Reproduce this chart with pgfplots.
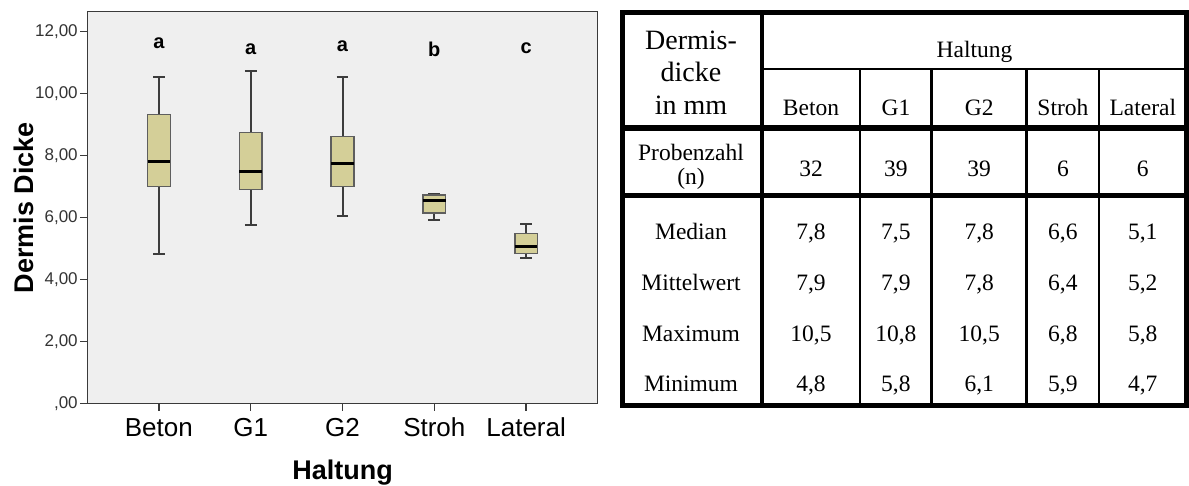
\documentclass[border=0pt]{standalone}
\usepackage{pgfplots}
\pgfplotsset{compat=1.18}
\usepgfplotslibrary{statistics}
\usepackage{fontspec}
\setmainfont{Liberation Serif}
\setsansfont{Liberation Sans}

\definecolor{boxfill}{HTML}{D4CF98}
\definecolor{boxedge}{HTML}{5E5E5E}
\definecolor{whisk}{HTML}{3C3C3C}
\definecolor{plotbg}{HTML}{EFEFEF}
\definecolor{framegray}{HTML}{3A3A3A}
\definecolor{tickgray}{HTML}{333333}

\newcommand{\tabfont}{\rmfamily\fontsize{23.5}{26}\selectfont}

\begin{document}
\begin{tikzpicture}
\path[use as bounding box] (0,0) rectangle (1189pt,485pt);

\begin{axis}[
  at={(87.7pt,81.7pt)}, anchor=south west,
  scale only axis, width=509.6pt, height=391.6pt,
  xmin=0.225, xmax=5.775, ymin=0, ymax=12.65,
  axis background/.style={fill=plotbg},
  axis line style={draw=framegray, line width=1.3pt},
  tick pos=left, tick align=outside, major tick length=7.5pt,
  every tick/.style={draw=framegray, line width=1.3pt},
  xtick={1,2,3,4,5},
  xticklabels={Beton,G1,G2,Stroh,Lateral},
  ytick={0,2,4,6,8,10,12},
  yticklabels={{,00},{2,00},{4,00},{6,00},{8,00},{10,00},{12,00}},
  xticklabel style={font=\sffamily\fontsize{26}{26}\selectfont, text=black, anchor=base, yshift=-26pt},
  yticklabel style={font=\sffamily\fontsize{17}{17}\selectfont, text=tickgray, anchor=east, xshift=1pt},
  every axis x label/.style={at={(axis description cs:0.5,0)}, anchor=base, yshift=-76pt},
  every axis y label/.style={at={([xshift=-54pt]axis description cs:0,0.5)}, anchor=base, rotate=90},
  xlabel={Haltung},
  ylabel={Dermis Dicke},
  label style={font=\sffamily\bfseries\fontsize{27}{27}\selectfont},
  boxplot/draw direction=y,
  boxplot/every box/.style={fill=boxfill, draw=boxedge, line width=1.4pt},
  boxplot/every median/.style={draw=black, line width=3pt},
  boxplot/every whisker/.style={draw=whisk, line width=2pt},
  boxplot/box extend=0.247,
  boxplot/whisker extend=0.127,
  clip=false,
]
% Beton
\addplot[boxplot prepared={draw position=1, lower whisker=4.81, lower quartile=7.01,
  median=7.82, upper quartile=9.33, upper whisker=10.53}] coordinates {};
% G1
\addplot[boxplot prepared={draw position=2, lower whisker=5.77, lower quartile=6.91,
  median=7.49, upper quartile=8.74, upper whisker=10.74}] coordinates {};
% G2
\addplot[boxplot prepared={draw position=3, lower whisker=6.04, lower quartile=7.01,
  median=7.75, upper quartile=8.62, upper whisker=10.53}] coordinates {};
% Stroh
\addplot[boxplot prepared={draw position=4, lower whisker=5.92, lower quartile=6.15,
  median=6.55, upper quartile=6.73, upper whisker=6.76}] coordinates {};
% Lateral
\addplot[boxplot prepared={draw position=5, lower whisker=4.69, lower quartile=4.83,
  median=5.07, upper quartile=5.49, upper whisker=5.80}] coordinates {};

% group letters
\begin{scope}[every node/.style={font=\sffamily\bfseries\fontsize{20}{20}\selectfont, anchor=base}]
\node at (axis cs:1,11.46) {a};
\node at (axis cs:2,11.27) {a};
\node at (axis cs:3,11.38) {a};
\node at (axis cs:4,11.19) {b};
\node at (axis cs:5,11.30) {c};
\end{scope}
\end{axis}

% summary table
\begin{scope}[shift={(0pt,485pt)}, x=1pt, y=-1pt]
\draw[line width=5pt] (622.5,12.5) rectangle (1186.5,405.5);
\draw[line width=3.7pt] (762,12.5) -- (762,405.5);
\draw[line width=1.5pt] (762,69) -- (1186.5,69);
\draw[line width=5.3pt] (622.5,128) -- (1186.5,128);
\draw[line width=5.5pt] (622.5,195.5) -- (1186.5,195.5);
\foreach \x in {860,931.7,1026.7,1099}
  \draw[line width=2.8pt] (\x,69) -- (\x,405.5);

\begin{scope}[every node/.style={anchor=base, inner sep=0pt}]
\node[font=\rmfamily\fontsize{28}{28}\selectfont] at (691,50) {Dermis-};
\node[font=\rmfamily\fontsize{28}{28}\selectfont] at (691,81.7) {dicke};
\node[font=\rmfamily\fontsize{28}{28}\selectfont] at (691,115) {in mm};
\node[font=\tabfont] at (974.5,57.3) {Haltung};
\node[font=\tabfont] at (691,161) {Probenzahl};
\node[font=\tabfont] at (691,185) {(n)};

\foreach \xc/\name/\n in {811/Beton/32, 895.9/G1/39, 979.2/G2/39, 1062.9/Stroh/6, 1142.8/Lateral/6} {
  \node[font=\tabfont] at (\xc,116) {\name};
  \node[font=\tabfont] at (\xc,176.7) {\n};
}

\node[font=\tabfont] at (691,240) {Median};
\node[font=\tabfont] at (691,290.7) {Mittelwert};
\node[font=\tabfont] at (691,341.7) {Maximum};
\node[font=\tabfont] at (691,391.7) {Minimum};

\foreach \xc/\a/\b/\c/\d in {811/{7,8}/{7,9}/{10,5}/{4,8},
                              895.9/{7,5}/{7,9}/{10,8}/{5,8},
                              979.2/{7,8}/{7,8}/{10,5}/{6,1},
                              1062.9/{6,6}/{6,4}/{6,8}/{5,9},
                              1142.8/{5,1}/{5,2}/{5,8}/{4,7}} {
  \node[font=\tabfont] at (\xc,240) {\a};
  \node[font=\tabfont] at (\xc,290.7) {\b};
  \node[font=\tabfont] at (\xc,341.7) {\c};
  \node[font=\tabfont] at (\xc,391.7) {\d};
}
\end{scope}
\end{scope}
\end{tikzpicture}
\end{document}
